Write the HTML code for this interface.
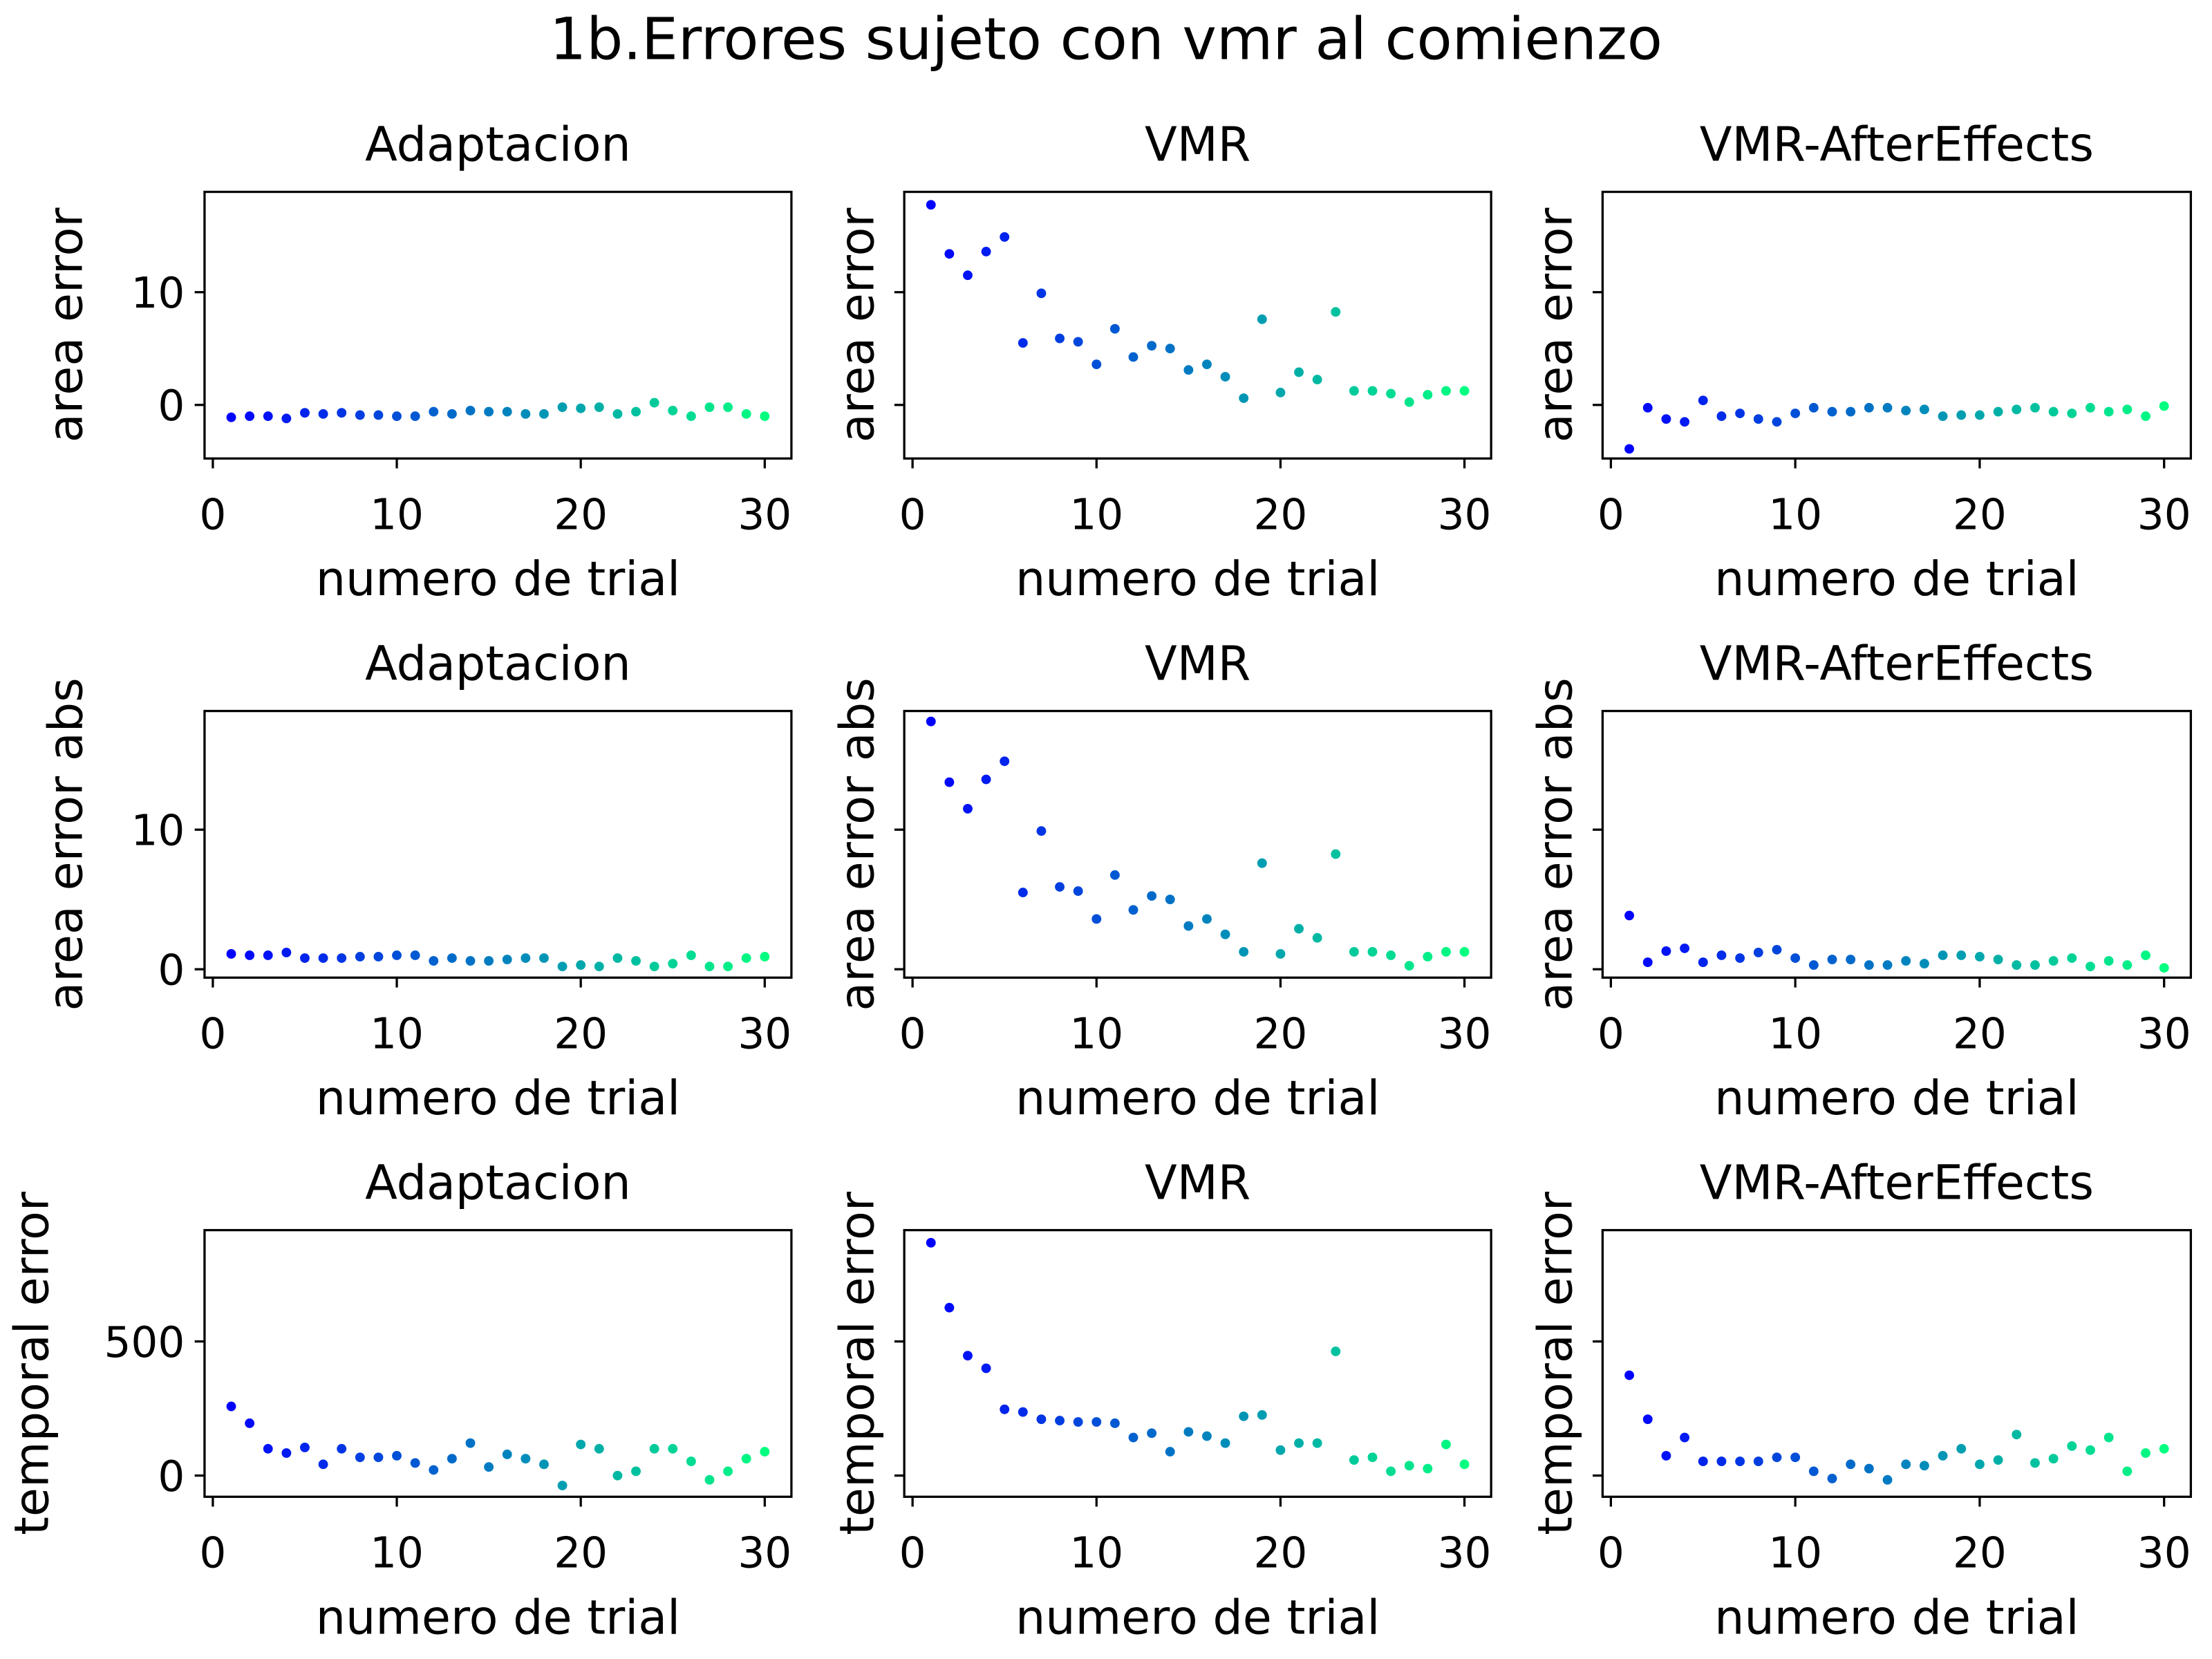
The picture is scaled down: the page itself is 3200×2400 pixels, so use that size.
<!DOCTYPE html>
<html><head><meta charset="utf-8">
<style>
html,body{margin:0;padding:0;background:#fff;}
svg{display:block;font-family:"DejaVu Sans","Liberation Sans",sans-serif;}
</style></head>
<body>
<svg id="fig" width="3200" height="2400" viewBox="0 0 1568 1176" xmlns="http://www.w3.org/2000/svg">
<rect width="1568" height="1176" fill="#fff"/>
<text x="784" y="42" font-size="41" text-anchor="middle">1b.Errores sujeto con vmr al comienzo</text>
</svg>
<script>
const trials = Array.from({length:30},(_,i)=>i+1);
const xTicks = [0,10,20,30];
const rowTicks = [[0,10],[0,10],[0,500]];
const rowYLabels = ["area error","area error abs","temporal error"];
const colTitles = ["Adaptacion","VMR","VMR-AfterEffects"];
const rowRanges = [[-4.75,18.9],[-0.6,18.5],[-79,915]];

const adaptArea = [-1.1,-1,-1,-1.2,-0.7,-0.8,-0.7,-0.9,-0.9,-1,-1,-0.6,-0.8,-0.5,-0.6,-0.6,-0.8,-0.8,-0.2,-0.3,-0.2,-0.8,-0.6,0.2,-0.5,-1,-0.2,-0.2,-0.8,-1];
const vmrArea = [17.75,13.4,11.5,13.6,14.9,5.5,9.9,5.9,5.6,3.6,6.75,4.25,5.25,5,3.1,3.6,2.5,0.6,7.6,1.1,2.9,2.25,8.25,1.25,1.25,1,0.25,0.9,1.25,1.25];
const aeArea = [-3.9,-0.25,-1.25,-1.5,0.4,-1,-0.75,-1.25,-1.5,-0.75,-0.25,-0.6,-0.6,-0.25,-0.25,-0.5,-0.4,-1,-0.9,-0.9,-0.6,-0.4,-0.25,-0.6,-0.75,-0.25,-0.6,-0.4,-1,-0.1];
const adaptAbs = [1.1,1,1,1.2,0.8,0.8,0.8,0.9,0.9,1,1,0.6,0.8,0.6,0.6,0.7,0.8,0.8,0.2,0.3,0.2,0.8,0.6,0.2,0.4,1,0.2,0.2,0.8,0.9];
const vmrAbs = [17.75,13.4,11.5,13.6,14.9,5.5,9.9,5.9,5.6,3.6,6.75,4.25,5.25,5,3.1,3.6,2.5,1.25,7.6,1.1,2.9,2.25,8.25,1.25,1.25,1,0.25,0.9,1.25,1.25];
const aeAbs = [3.85,0.5,1.3,1.5,0.5,1,0.8,1.2,1.4,0.8,0.3,0.7,0.7,0.3,0.3,0.6,0.4,1,1,0.9,0.7,0.3,0.3,0.6,0.8,0.2,0.6,0.3,1,0.1];
const adaptTemp = [258,195,100,84,105,42,100,68,68,74,47,21,63,121,32,79,63,42,-37,116,100,0,16,100,100,53,-16,16,63,89];
const vmrTemp = [868,626,447,400,247,237,210,205,200,200,195,142,158,89,163,147,121,221,226,95,121,121,463,58,68,16,37,26,116,42];
const aeTemp = [374,210,74,142,53,53,53,53,68,68,16,-11,42,26,-16,42,37,74,100,42,58,153,47,63,110,95,142,16,84,100];

const grid = [[adaptArea,vmrArea,aeArea],[adaptAbs,vmrAbs,aeAbs],[adaptTemp,vmrTemp,aeTemp]];
const colX = [[145,561],[641,1057],[1136,1553]];
const rowY = [[136,325],[504,693],[872,1061]];
const xMin=-0.45, xMax=31.45;
const NS="http://www.w3.org/2000/svg";
const svg=document.getElementById('fig');
function mk(tag,attrs,parent){const e=document.createElementNS(NS,tag);for(const k in attrs)e.setAttribute(k,attrs[k]);(parent||svg).appendChild(e);return e;}
function winter(t){return `rgb(0,${Math.round(255*t)},${Math.round(255-127*t)})`;}

for(let r=0;r<3;r++){
  for(let c=0;c<3;c++){
    const [x0,x1]=colX[c],[y0,y1]=rowY[r];
    const [lo,hi]=rowRanges[r];
    const sx=v=>x0+(v-xMin)/(xMax-xMin)*(x1-x0);
    const sy=v=>y1-(v-lo)/(hi-lo)*(y1-y0);
    const g=mk('g',{});
    
    
    const t=mk('text',{x:(x0+x1)/2,y:y0-22,'font-size':33.5,'text-anchor':'middle'},g);
    t.textContent=colTitles[c];
    
    
    const vals=grid[r][c];
    trials.forEach((tr,i)=>{
      const p=mk('circle',{cx:sx(tr),cy:sy(vals[i]),r:3.4,fill:winter(i/29)},g);
      
      
    });
    const fr=mk('rect',{x:x0,y:y0,width:x1-x0,height:y1-y0,fill:'none',stroke:'#000','stroke-width':1.6},g);
    
    
    xTicks.forEach(v=>{
      mk('line',{x1:sx(v),x2:sx(v),y1:y1,y2:y1+7,stroke:'#000','stroke-width':1.6},g);
      const tl=mk('text',{x:sx(v),y:y1+50,'font-size':30,'text-anchor':'middle'},g);
      tl.textContent=v;
      
      
    });
    const xl=mk('text',{x:(x0+x1)/2,y:y1+97,'font-size':33.5,'text-anchor':'middle'},g);
    xl.textContent='numero de trial';
    
    
    rowTicks[r].forEach(v=>{
      mk('line',{x1:x0-7,x2:x0,y1:sy(v),y2:sy(v),stroke:'#000','stroke-width':1.6},g);
      if(c===0){
        const tl=mk('text',{x:x0-14,y:sy(v)+11,'font-size':30,'text-anchor':'end'},g);
        tl.textContent=v;
        
        
      }
    });
    const lx = c===0 ? (r===2? 34 : 58) : x0-22;
    const yl=mk('text',{x:lx,y:(y0+y1)/2,'font-size':33.5,'text-anchor':'middle',transform:`rotate(-90 ${lx} ${(y0+y1)/2})`},g);
    yl.textContent=rowYLabels[r];
    
    
  }
}
</script>
</body></html>
